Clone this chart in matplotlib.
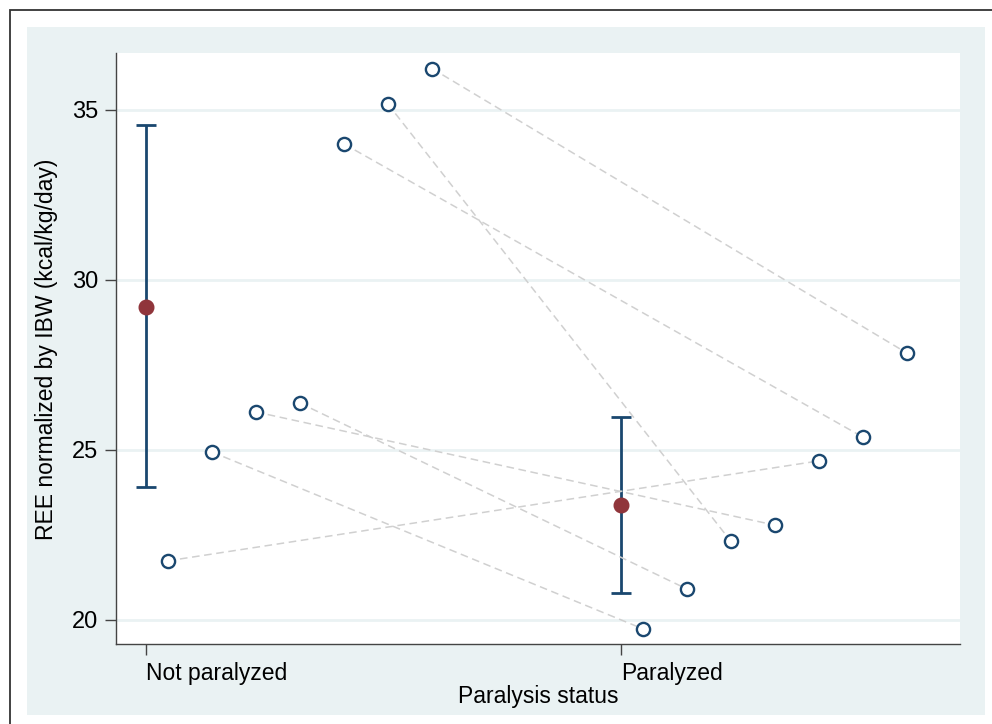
import numpy as np
import matplotlib
matplotlib.use("Agg")
import matplotlib.pyplot as plt
from matplotlib.patches import Rectangle

plt.rcParams['font.family'] = ['Liberation Sans', 'DejaVu Sans']

# group labels
groups = ["Not paralyzed", "Paralyzed"]

# per subject: horizontal offset and REE value for each status
np_offset = [0.046, 0.139, 0.231, 0.324, 0.417, 0.509, 0.602]
np_ree = [21.74, 24.94, 26.12, 26.38, 34.00, 35.18, 36.22]
p_offset = [0.417, 0.046, 0.324, 0.139, 0.509, 0.231, 0.602]
p_ree = [24.68, 19.74, 22.79, 20.91, 25.38, 22.32, 27.85]

# group mean with 95% CI
group_mean = [29.21, 23.38]
ci_low = [23.91, 20.79]
ci_high = [34.56, 25.97]

navy = "#1a476f"
maroon = "#90353b"
bg = "#eaf2f3"
W, H = 992, 724

fig = plt.figure(figsize=(W / 100, H / 100), dpi=100, facecolor="white")
# graph region and outer frame
fig.patches.append(Rectangle((27 / W, 1 - 715 / H), (985 - 27) / W, (715 - 27) / H,
                             transform=fig.transFigure, facecolor=bg, edgecolor="none", zorder=0))
fig.patches.append(Rectangle((10 / W, -0.1), 1.2, 1 - 10 / H + 0.1,
                             transform=fig.transFigure, facecolor="none", edgecolor="#333333",
                             linewidth=1.3, zorder=1))

ax = fig.add_axes([116 / W, 1 - 644 / H, (960 - 116) / W, (644 - 53) / H])
ax.set_zorder(5)
ax.set_facecolor("white")

ax.set_xlim(-0.0632, 1.7137)
ax.set_ylim(19.294, 36.676)

# grid
for yv in [20, 25, 30, 35]:
    ax.axhline(yv, color=bg, linewidth=2, zorder=1)

# error bars + means
x_grp = np.arange(len(groups))
ax.errorbar(x_grp, group_mean,
            yerr=[np.array(group_mean) - np.array(ci_low), np.array(ci_high) - np.array(group_mean)],
            fmt="none", ecolor=navy, elinewidth=2.0, capsize=7, capthick=2.0, zorder=2)

# paired subject lines
for i in range(len(np_ree)):
    ax.plot([0 + np_offset[i], 1 + p_offset[i]], [np_ree[i], p_ree[i]],
            linestyle=(0, (5, 3)), color="#d0d0d0", linewidth=1.1, zorder=3)

ax.plot(np.array(np_offset), np_ree, "o", markersize=9.5, markerfacecolor="white",
        markeredgecolor=navy, markeredgewidth=1.7, linestyle="none", zorder=4)
ax.plot(1 + np.array(p_offset), p_ree, "o", markersize=9.5, markerfacecolor="white",
        markeredgecolor=navy, markeredgewidth=1.7, linestyle="none", zorder=4)

ax.plot(x_grp, group_mean, "o", markersize=10.5, color=maroon, linestyle="none", zorder=5)

# axes styling
for s in ["top", "right"]:
    ax.spines[s].set_visible(False)
for s in ["left", "bottom"]:
    ax.spines[s].set_color("#444444")
    ax.spines[s].set_linewidth(1.0)

ax.set_yticks([20, 25, 30, 35])
ax.set_yticklabels(["20", "25", "30", "35"], fontsize=17)
ax.set_xticks(x_grp)
ax.set_xticklabels(groups, fontsize=16.5, ha="left")
ax.tick_params(axis="both", length=8, width=1.0, color="#444444", direction="out")
ax.tick_params(axis="y", pad=5)
ax.tick_params(axis="x", pad=5)

fig.text(47 / W, 1 - 349 / H, "REE normalized by IBW (kcal/kg/day)", rotation=90,
         ha="center", va="center", fontsize=16.5)
fig.text(538 / W, 1 - 703 / H, "Paralysis status", ha="center", va="baseline", fontsize=16.5)

fig.savefig("out.png", dpi=100, facecolor="white")
